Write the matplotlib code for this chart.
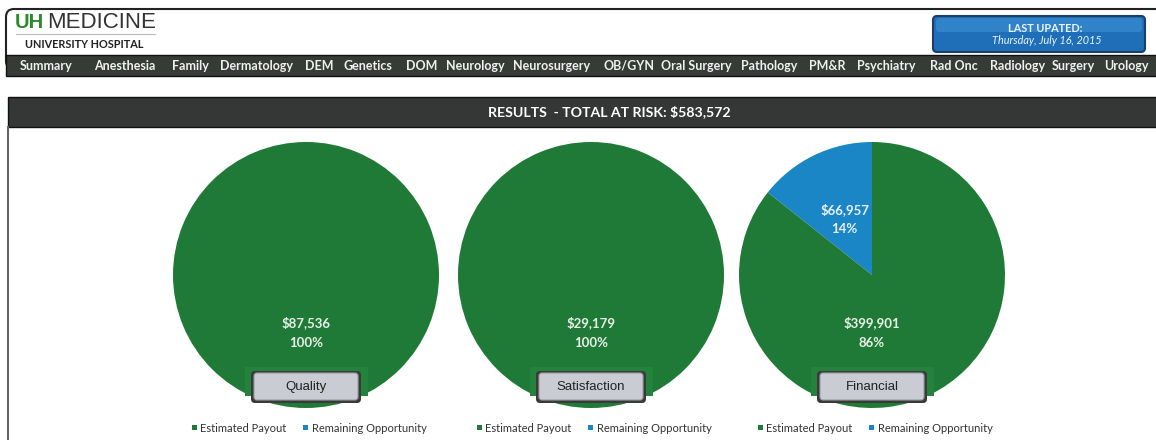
import matplotlib
matplotlib.use("Agg")
import matplotlib.pyplot as plt
from matplotlib.patches import FancyBboxPatch, Rectangle
import numpy as np

W, H = 1156, 440
GREEN = "#1f7a37"
BLUE = "#1b86c6"

# ---------------- data ----------------
tabs = ["Summary", "Anesthesia", "Family", "Dermatology", "DEM", "Genetics", "DOM",
        "Neurology", "Neurosurgery", "OB/GYN", "Oral Surgery", "Pathology", "PM&R",
        "Psychiatry", "Rad Onc", "Radiology", "Surgery", "Urology"]
tab_x = [20, 94, 172, 220, 305, 343, 406, 446, 513, 603, 661, 741, 809, 857, 930, 990, 1052, 1104]

categories = ["Quality", "Satisfaction", "Financial"]
estimated_payout = [87536, 29179, 399901]
remaining_opportunity = [0, 0, 66957]
total_at_risk = 583572
last_updated = "Thursday, July 16, 2015"

pie_centers = [(306, 275), (591, 275), (872, 275)]
pie_r = 133

FONT = ["Lato", "DejaVu Sans"]

fig = plt.figure(figsize=(W / 100, H / 100), dpi=100)
fig.patch.set_facecolor("white")

bg = fig.add_axes([0, 0, 1, 1])
bg.set_xlim(0, W)
bg.set_ylim(H, 0)
bg.axis("off")

# header box
bg.add_patch(FancyBboxPatch((6, 9), W + 20, 60, boxstyle="round,pad=0,rounding_size=8",
                            facecolor="white", edgecolor="#222222", lw=1.5, zorder=1))
bg.text(15, 22, "UH", color="#2b8a2b", fontsize=14.5, fontweight="bold",
        family="Liberation Sans", va="center", ha="left", zorder=3)
bg.text(47, 22, "MEDICINE", color="#333333", fontsize=16, family="Liberation Sans",
        va="center", ha="left", zorder=3)
bg.plot([16, 155], [34, 34], color="#bbbbbb", lw=0.8, zorder=3)
bg.text(25, 44.5, "UNIVERSITY HOSPITAL", color="#222222", fontsize=7.8, fontweight="bold",
        family=FONT, va="center", ha="left", zorder=3)

# last updated button
bg.add_patch(FancyBboxPatch((933, 16), 212, 36, boxstyle="round,pad=0,rounding_size=4",
                            facecolor="#1f6fb8", edgecolor="#1a3f66", lw=1.5, zorder=3))
bg.add_patch(FancyBboxPatch((936, 18), 206, 14, boxstyle="round,pad=0,rounding_size=3",
                            facecolor="#3d8fd6", edgecolor="none", alpha=0.6, zorder=3))
bg.text(1045, 29, "LAST UPATED:", color="#eaf3ff", fontsize=7.8, fontweight="bold",
        family=FONT, ha="center", va="center", zorder=4)
bg.text(1047, 41, last_updated, color="#eaf3ff", fontsize=7.8, style="italic",
        family=FONT, ha="center", va="center", zorder=4)

# nav bar
bg.add_patch(Rectangle((6, 55), W, 21, facecolor="#363b38", edgecolor="#111111", lw=1, zorder=2))
for t, x in zip(tabs, tab_x):
    bg.text(x, 66, t, color="#f0f0f0", fontsize=9.0, fontweight="bold", family=FONT,
            ha="left", va="center", zorder=3)

# results bar
bg.add_patch(Rectangle((8, 97), W, 30, facecolor="#343735", edgecolor="#111111", lw=1, zorder=2))
bg.text(609, 112, f"RESULTS  - TOTAL AT RISK: ${total_at_risk:,}", color="white", fontsize=10.2,
        fontweight="bold", family=FONT, ha="center", va="center", zorder=3)
bg.plot([8, 8], [127, H], color="#666666", lw=1.5, zorder=2)

# pies
for cat, pay, rem, (cx, cy) in zip(categories, estimated_payout, remaining_opportunity, pie_centers):
    ax = fig.add_axes([(cx - pie_r) / W, (H - cy - pie_r) / H, 2 * pie_r / W, 2 * pie_r / H])
    vals = [rem, pay]
    cols = [BLUE, GREEN]
    nz = [(v, c) for v, c in zip(vals, cols) if v > 0]
    wedges, _ = ax.pie([v for v, c in nz], colors=[c for v, c in nz], startangle=90,
                       counterclock=True, radius=1, wedgeprops=dict(linewidth=0))
    ax.set_xlim(-1, 1)
    ax.set_ylim(-1, 1)
    ax.set_aspect("equal")
    ax.axis("off")
    total = pay + rem
    ax.text(0, -0.36, f"${pay:,}", color="#e8f0e8", fontsize=9.5, fontweight="bold",
            family=FONT, ha="center", va="center")
    ax.text(0, -0.51, f"{pay / total:.0%}", color="#e8f0e8", fontsize=9.5, fontweight="bold",
            family=FONT, ha="center", va="center")
    if rem > 0:
        ang = np.deg2rad(90 + 360 * rem / total / 2)
        rx, ry = 0.47 * np.cos(ang), 0.47 * np.sin(ang)
        ax.text(rx, ry + 0.07, f"${rem:,}", color="#e8f0ff", fontsize=9.5, fontweight="bold",
                family=FONT, ha="center", va="center")
        ax.text(rx, ry - 0.08, f"{rem / total:.0%}", color="#e8f0ff", fontsize=9.5,
                fontweight="bold", family=FONT, ha="center", va="center")

    # green label backing and gray button
    bg.add_patch(Rectangle((cx - 61, 367), 123, 29, facecolor="#23833c", edgecolor="none", zorder=4))
    bg.add_patch(FancyBboxPatch((cx - 55, 371), 110, 32, boxstyle="round,pad=0,rounding_size=4",
                                facecolor="#3a3a3a", edgecolor="none", zorder=5))
    bg.add_patch(FancyBboxPatch((cx - 52, 373), 104, 27, boxstyle="round,pad=0,rounding_size=3",
                                facecolor="#c9ccd3", edgecolor="#9a9ca2", lw=0.8, zorder=6))
    bg.text(cx, 387, cat, color="#222222", fontsize=9.5, family="Liberation Sans",
            ha="center", va="center", zorder=7)

    # legend
    lx = cx - 114
    bg.add_patch(Rectangle((lx, 425), 5, 5, facecolor=GREEN, edgecolor="none", zorder=4))
    bg.text(lx + 8, 428, "Estimated Payout", color="#333333", fontsize=8.0, family=FONT,
            ha="left", va="center", zorder=4)
    bg.add_patch(Rectangle((lx + 111, 425), 5, 5, facecolor=BLUE, edgecolor="none", zorder=4))
    bg.text(lx + 120, 428, "Remaining Opportunity", color="#333333", fontsize=8.0, family=FONT,
            ha="left", va="center", zorder=4)

# bring decoration axes above pies
bg.set_zorder(10)
bg.patch.set_visible(False)

fig.savefig("out.png", dpi=100, facecolor="white")
